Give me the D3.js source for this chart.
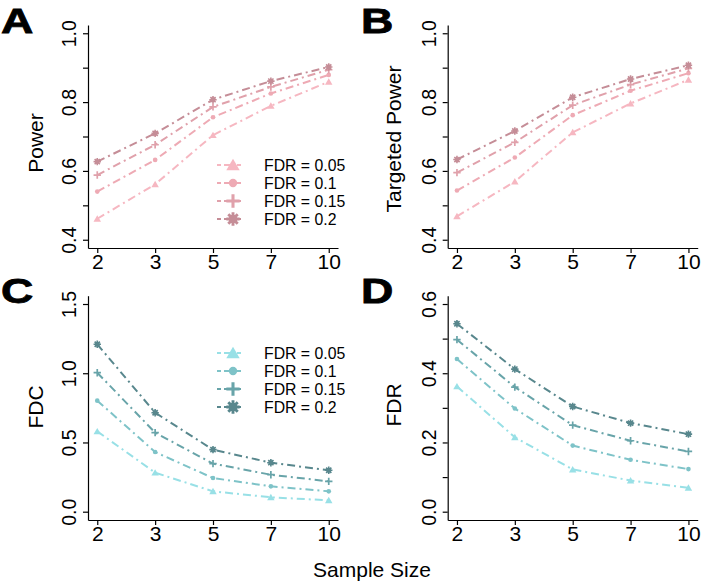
<!DOCTYPE html>
<html>
<head>
<meta charset="utf-8">
<script src="https://cdn.jsdelivr.net/npm/d3@7"></script>
<style>
  html, body { margin: 0; padding: 0; background: #ffffff; }
  svg { display: block; font-family: "Liberation Sans", Arial, Helvetica, sans-serif; }
</style>
</head>
<body>
<svg id="chart" width="701" height="584"></svg>
<script>
// ---------------- data ----------------
const sampleSizes = ["2", "3", "5", "7", "10"];
const fdrLevels = ["FDR = 0.05", "FDR = 0.1", "FDR = 0.15", "FDR = 0.2"];

// Panel A: Power (rows = FDR 0.05, 0.1, 0.15, 0.2)
const powerValues = [
  [0.461, 0.561, 0.704, 0.789, 0.859],
  [0.540, 0.632, 0.756, 0.825, 0.879],
  [0.588, 0.676, 0.786, 0.844, 0.894],
  [0.627, 0.709, 0.807, 0.861, 0.902]
];
// Panel B: Targeted Power
const targetedPowerValues = [
  [0.468, 0.569, 0.712, 0.796, 0.865],
  [0.543, 0.639, 0.762, 0.833, 0.884],
  [0.595, 0.683, 0.791, 0.851, 0.898],
  [0.633, 0.716, 0.814, 0.867, 0.907]
];
// Panel C: FDC
const fdcValues = [
  [0.580, 0.282, 0.147, 0.104, 0.082],
  [0.802, 0.431, 0.243, 0.183, 0.147],
  [1.004, 0.571, 0.347, 0.267, 0.219],
  [1.209, 0.715, 0.448, 0.354, 0.299]
];
// Panel D: FDR
const fdrValues = [
  [0.362, 0.215, 0.122, 0.090, 0.069],
  [0.441, 0.298, 0.191, 0.150, 0.123],
  [0.497, 0.360, 0.250, 0.205, 0.174],
  [0.543, 0.412, 0.304, 0.256, 0.224]
];

const powerTicks = [0.4, 0.5, 0.6, 0.7, 0.8, 0.9, 1.0];
const powerTickLabels = ["0.4", "", "0.6", "", "0.8", "", "1.0"];
const fdcTicks = [0.0, 0.5, 1.0, 1.5];
const fdcTickLabels = ["0.0", "0.5", "1.0", "1.5"];
const fdrTicks = [0.0, 0.1, 0.2, 0.3, 0.4, 0.5, 0.6];
const fdrTickLabels = ["0.0", "", "0.2", "", "0.4", "", "0.6"];

const panelLetters = ["A", "B", "C", "D"];
const yTitles = ["Power", "Targeted Power", "FDC", "FDR"];
const xTitle = "Sample Size";

// ---------------- styling / layout ----------------
const pinkPalette = ["#f6b7c1", "#eeaab4", "#e0a1ab", "#c58d97"];
const tealPalette = ["#98e0e6", "#7ec3c8", "#68a4a9", "#58878d"];
const symbolKinds = ["triangle", "circle", "plus", "star"];

const panels = [
  { values: powerValues, ticks: powerTicks, labels: powerTickLabels, yMin: 0.4, yMax: 1.0,
    left: 88, right: 338, top: 25, bottom: 248, palette: pinkPalette,
    letterX: 1, letterY: 33, titleX: 43, titleY: 143, legend: { x: 233, y: 165 } },
  { values: targetedPowerValues, ticks: powerTicks, labels: powerTickLabels, yMin: 0.4, yMax: 1.0,
    left: 447.7, right: 697.7, top: 25, bottom: 248, palette: pinkPalette,
    letterX: 361, letterY: 33, titleX: 401, titleY: 139, legend: null },
  { values: fdcValues, ticks: fdcTicks, labels: fdcTickLabels, yMin: 0.0, yMax: 1.5,
    left: 88, right: 338, top: 295.7, bottom: 520, palette: tealPalette,
    letterX: 1, letterY: 303, titleX: 43, titleY: 407, legend: { x: 233, y: 353 } },
  { values: fdrValues, ticks: fdrTicks, labels: fdrTickLabels, yMin: 0.0, yMax: 0.6,
    left: 447.7, right: 697.7, top: 295.7, bottom: 520, palette: tealPalette,
    letterX: 361, letterY: 303, titleX: 401, titleY: 405, legend: null }
];

const svg = d3.select("#chart");

function drawSymbol(g, kind, cx, cy, color, scale) {
  const s = scale;
  if (kind === "triangle") {
    g.append("path")
      .attr("d", d3.symbol().type(d3.symbolTriangle).size(24 * s * s)())
      .attr("transform", `translate(${cx},${cy + 0.8 * s})`)
      .attr("fill", color);
  } else if (kind === "circle") {
    g.append("path")
      .attr("d", d3.symbol().type(d3.symbolCircle).size(17 * s * s)())
      .attr("transform", `translate(${cx},${cy})`)
      .attr("fill", color);
  } else if (kind === "plus") {
    const r = 3.7 * s;
    const p = d3.path();
    p.moveTo(-r, 0); p.lineTo(r, 0); p.moveTo(0, -r); p.lineTo(0, r);
    g.append("path").attr("d", p.toString())
      .attr("transform", `translate(${cx},${cy})`)
      .attr("stroke", color).attr("stroke-width", 1.7 * s).attr("fill", "none");
  } else {
    const r = 3.7 * s;
    const p = d3.path();
    for (let k = 0; k < 4; k++) {
      const a = k * Math.PI / 4;
      p.moveTo(-r * Math.cos(a), -r * Math.sin(a));
      p.lineTo(r * Math.cos(a), r * Math.sin(a));
    }
    const gg = g.append("g").attr("transform", `translate(${cx},${cy})`);
    gg.append("path").attr("d", p.toString())
      .attr("stroke", color).attr("stroke-width", 1.6 * s).attr("fill", "none");
    gg.append("circle").attr("r", 2.4 * s).attr("fill", color);
  }
}

panels.forEach((P, pi) => {
  const g = svg.append("g");
  const xs = d3.scaleLinear().domain([0.84, 5.16]).range([P.left, P.right]);
  const ext = 0.04 * (P.yMax - P.yMin);
  const ys = d3.scaleLinear().domain([P.yMin - ext, P.yMax + ext]).range([P.bottom, P.top]);

  // y axis
  const yAxis = d3.axisLeft(ys).tickValues(P.ticks).tickSize(5).tickSizeOuter(0)
    .tickFormat((d, i) => P.labels[i]);
  const ya = g.append("g").attr("transform", `translate(${P.left},0)`).call(yAxis);
  ya.select(".domain").attr("stroke", "#000").attr("stroke-width", 1.2);
  ya.selectAll(".tick line").attr("stroke", "#000").attr("stroke-width", 1.2);
  ya.selectAll(".tick text")
    .attr("x", null).attr("dy", null)
    .attr("transform", "translate(-12,0) rotate(-90)")
    .attr("text-anchor", "middle")
    .attr("font-size", 19.5).attr("fill", "#000")
    .style("font-family", "Liberation Sans, Arial, sans-serif");

  // x axis
  const xAxis = d3.axisBottom(xs).tickValues([1, 2, 3, 4, 5]).tickSize(5).tickSizeOuter(0)
    .tickFormat((d, i) => sampleSizes[i]);
  const xa = g.append("g").attr("transform", `translate(0,${P.bottom})`).call(xAxis);
  xa.select(".domain").attr("stroke", "#000").attr("stroke-width", 1.2);
  xa.selectAll(".tick line").attr("stroke", "#000").attr("stroke-width", 1.2);
  xa.selectAll(".tick text")
    .attr("y", 20.5).attr("dy", null)
    .attr("font-size", 21).attr("fill", "#000")
    .style("font-family", "Liberation Sans, Arial, sans-serif");

  // y title
  g.append("text")
    .attr("transform", `translate(${P.titleX},${P.titleY}) rotate(-90)`)
    .attr("text-anchor", "middle")
    .attr("font-size", 21)
    .attr("fill", "#000")
    .text(yTitles[pi]);

  // panel letter
  g.append("text")
    .attr("transform", `translate(${P.letterX},${P.letterY}) scale(1.28,1)`)
    .attr("font-size", 35).attr("font-weight", "bold")
    .attr("fill", "#000").attr("stroke", "#000").attr("stroke-width", 0.8)
    .text(panelLetters[pi]);

  // series
  const line = d3.line().x((d, i) => xs(i + 1)).y(d => ys(d));
  P.values.forEach((series, si) => {
    const color = P.palette[si];
    g.append("path")
      .attr("d", line(series))
      .attr("fill", "none")
      .attr("stroke", color)
      .attr("stroke-width", 2)
      .attr("stroke-dasharray", "8 4 2 4");
    series.forEach((v, i) => drawSymbol(g, symbolKinds[si], xs(i + 1), ys(v), color, 1));
  });

  // legend
  if (P.legend) {
    fdrLevels.forEach((lab, si) => {
      const color = P.palette[si];
      const cy = P.legend.y + si * 18;
      g.append("line")
        .attr("x1", P.legend.x - 16).attr("x2", P.legend.x + 10)
        .attr("y1", cy).attr("y2", cy)
        .attr("stroke", color).attr("stroke-width", 2)
        .attr("stroke-dasharray", "4 3 10 3");
      drawSymbol(g, symbolKinds[si], P.legend.x, cy, color, 1.8);
      g.append("text")
        .attr("x", P.legend.x + 31).attr("y", cy + 5.5)
        .attr("font-size", 15.8).attr("fill", "#000")
        .text(lab);
    });
  }
});

// shared x title
svg.append("text")
  .attr("x", 372).attr("y", 577)
  .attr("text-anchor", "middle")
  .attr("font-size", 21)
  .attr("fill", "#000")
  .text(xTitle);
</script>
</body>
</html>
